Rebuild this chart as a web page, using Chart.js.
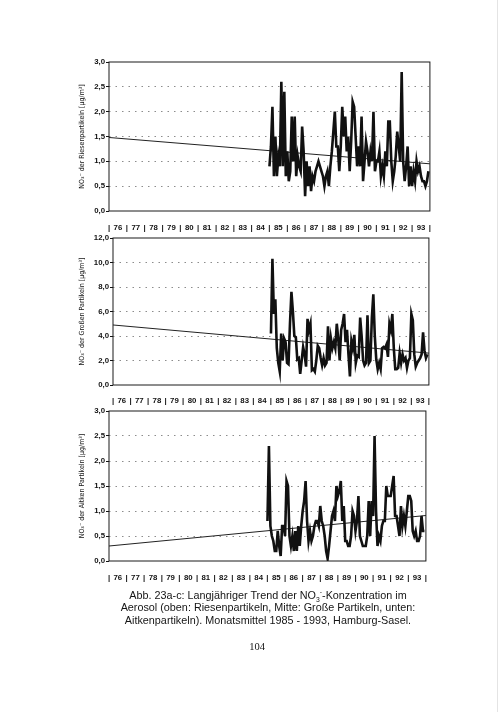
<!DOCTYPE html>
<html>
<head>
<meta charset="utf-8">
<script src="https://cdn.jsdelivr.net/npm/chart.js@4.4.0/dist/chart.umd.min.js"></script>
<style>
  body { margin: 0; width: 504px; height: 712px; background: #fff; position: relative; overflow: hidden;
         font-family: 'Liberation Sans', Arial, sans-serif; color: #151515; }
  .box { position: absolute; }
  .caption { position: absolute; left: 88px; top: 589px; width: 360px; text-align: center;
             font-size: 10.8px; line-height: 12.4px; white-space: nowrap; }
  .caption sub, .caption sup { font-size: 6.8px; line-height: 0; }
  .page { position: absolute; left: 232px; top: 641px; width: 50px; text-align: center;
          font-family: 'Liberation Serif', serif; font-size: 10.5px; }
  .scan-edge { position: absolute; left: 497px; top: 0; width: 1px; height: 712px; background: #e4e4e4; }
</style>
</head>
<body>
<div class="scan-edge"></div>
<div class="box" id="boxA"><canvas id="chartA"></canvas></div>
<div class="box" id="boxB"><canvas id="chartB"></canvas></div>
<div class="box" id="boxC"><canvas id="chartC"></canvas></div>
<div class="caption">
  Abb. 23a-c: Langjähriger Trend der NO<sub>3</sub><sup>-</sup>-Konzentration im<br>
  Aerosol (oben: Riesenpartikeln, Mitte: Große Partikeln, unten:<br>
  Aitkenpartikeln). Monatsmittel 1985 - 1993, Hamburg-Sasel.
</div>
<div class="page">104</div>
<script>
// Jahres-Beschriftung der x-Achse (1976 - 1993)
const yearLabels = ['76', '77', '78', '79', '80', '81', '82', '83', '84',
                    '85', '86', '87', '88', '89', '90', '91', '92', '93'];
const firstYear = 1976;
const dataStartYear = 1985;

// Monatsmittel 1985 - 1993, Riesenpartikeln [µg/m³]
const riesen = [
  0.9, 1.3, 2.1, 0.7, 1.5, 0.7, 1.1, 0.9, 2.6, 0.9, 2.4, 0.7,
  1.2, 0.6, 0.8, 1.9, 1.0, 1.9, 0.7, 1.1, 0.9, 0.8, 1.7, 1.2,
  0.3, 1.0, 0.5, 0.9, 0.4, 0.7, 0.6, 0.8, 0.9, 1.0, 0.9, 0.8,
  0.7, 0.5, 0.7, 0.8, 0.5, 0.9, 1.2, 1.6, 2.0, 1.3, 1.3, 0.8,
  1.3, 2.1, 1.5, 1.9, 1.2, 1.5, 0.8, 1.4, 2.2, 2.1, 1.5, 0.9,
  1.3, 0.9, 1.9, 0.6, 1.0, 1.4, 1.2, 0.9, 1.2, 1.0, 2.0, 0.8,
  1.0, 1.0, 1.2, 0.7, 0.9, 0.7, 1.2, 0.9, 1.8, 1.8, 1.0, 0.6,
  0.8, 1.1, 1.6, 1.3, 1.0, 2.8, 1.0, 0.6, 0.9, 1.3, 0.5, 0.9,
  0.5, 0.8, 0.6, 1.0, 0.8, 0.9, 0.7, 0.6, 0.6, 0.5, 0.6, 0.8
];

// Große Partikeln [µg/m³]
const gross = [
  4.2, 10.3, 5.8, 7.0, 3.0, 1.8, 1.1, 4.2, 2.0, 3.8, 3.5, 1.8,
  1.7, 5.0, 7.6, 6.0, 4.0, 3.9, 2.1, 2.2, 0.9, 2.0, 3.1, 2.5,
  1.5, 5.4, 4.5, 5.0, 1.2, 1.3, 1.1, 2.0, 3.2, 3.0, 2.2, 1.6,
  2.2, 1.6, 1.8, 4.8, 2.0, 3.8, 3.0, 3.5, 3.0, 5.0, 3.8, 2.0,
  4.5, 5.0, 5.8, 3.5, 4.5, 2.5, 0.7, 3.6, 3.0, 4.1, 1.8, 2.4,
  2.3, 5.5, 4.0, 2.0, 1.6, 1.8, 5.7, 1.8, 2.0, 5.5, 7.4, 4.0,
  2.1, 1.3, 1.8, 1.3, 3.0, 3.1, 3.0, 3.3, 2.3, 5.0, 4.5, 5.8,
  3.0, 1.3, 1.3, 1.4, 2.6, 1.8, 2.5, 2.0, 2.2, 1.4, 2.0, 2.2,
  5.8, 5.3, 2.5, 1.5, 1.8, 2.0, 2.2, 2.5, 4.3, 2.8, 2.2, 2.5
];

// Aitken Partikeln [µg/m³]
const aitken = [
  0.8, 2.3, 0.7, 0.5, 0.4, 0.2, 0.2, 0.6, 0.3, 0.1, 0.7, 0.7,
  0.5, 1.6, 1.5, 0.5, 0.3, 0.5, 0.2, 0.6, 0.2, 0.7, 0.3, 0.7,
  1.0, 1.2, 1.6, 0.8, 0.4, 0.6, 0.4, 0.5, 0.7, 0.8, 0.8, 0.7,
  1.1, 0.8, 0.7, 0.5, 0.2, 0.05, 0.3, 0.6, 0.9, 1.0, 0.8, 1.5,
  1.3, 1.4, 1.6, 0.8, 1.1, 0.4, 0.4, 0.3, 0.3, 0.5, 1.0, 0.9,
  0.6, 0.8, 1.3, 0.5, 0.4, 0.3, 0.3, 0.3, 0.5, 1.2, 0.5, 1.2,
  0.9, 2.5, 1.0, 0.3, 0.5, 0.4, 0.7, 0.8, 0.8, 1.5, 1.3, 1.3,
  1.3, 1.5, 1.7, 0.9, 0.9, 0.7, 0.5, 1.1, 0.7, 0.9, 0.7, 1.0,
  1.3, 1.3, 1.2, 0.6, 0.5, 0.6, 0.4, 0.4, 0.5, 0.9, 0.6, 0.6
];

// Trendgeraden (Anfang 1976, Ende 1994)
const trendYears = [1976, 1994];
const trendRiesen = [1.48, 0.95];
const trendGross = [4.9, 2.6];
const trendAitken = [0.30, 0.91];

const lastYear = firstYear + yearLabels.length;
const boxLeft = 78;
const xAxisHeight = 28;

const frame = {
  id: 'frame',
  beforeDatasetsDraw(chart) {
    const { ctx, chartArea: a } = chart;
    ctx.save();
    ctx.strokeStyle = '#1a1a1a';
    ctx.lineWidth = 1;
    ctx.strokeRect(a.left, a.top, a.right - a.left, a.bottom - a.top);
    ctx.restore();
  }
};

function makeChart(id, boxId, values, trend, yMax, yStep, title, plot) {
  const box = document.getElementById(boxId);
  const w = plot.right + 6 - boxLeft;
  const h = plot.bottom + xAxisHeight - (plot.top - 6);
  box.style.left = boxLeft + 'px';
  box.style.top = (plot.top - 6) + 'px';
  const cv = document.getElementById(id);
  cv.width = w; cv.height = h;
  cv.style.width = w + 'px'; cv.style.height = h + 'px';

  return new Chart(cv, {
    type: 'line',
    data: {
      datasets: [
        {
          data: values.map((v, i) => ({ x: dataStartYear + i / 12, y: v })),
          borderColor: '#111',
          borderWidth: 2.6,
          pointRadius: 0,
          tension: 0
        },
        {
          data: trendYears.map((x, i) => ({ x: x, y: trend[i] })),
          borderColor: '#222',
          borderWidth: 1,
          pointRadius: 0
        }
      ]
    },
    options: {
      responsive: false,
      animation: false,
      layout: { padding: { top: 6, right: 6, left: 0, bottom: 0 } },
      plugins: { legend: { display: false }, tooltip: { enabled: false } },
      scales: {
        x: {
          type: 'linear',
          min: firstYear,
          max: lastYear,
          afterBuildTicks: s => {
            s.ticks = [];
            for (let i = 0; i <= yearLabels.length * 2; i++) s.ticks.push({ value: firstYear + i / 2 });
          },
          afterFit: s => { s.height = xAxisHeight; },
          grid: { display: false, drawTicks: false },
          border: { display: false },
          ticks: {
            autoSkip: false, maxRotation: 0, minRotation: 0, padding: plot.xPad,
            color: '#111', font: { family: 'Liberation Sans', size: 7.8, weight: 'bold' },
            callback: (v, i) => i % 2 === 0 ? '|' : yearLabels[(i - 1) / 2]
          }
        },
        y: {
          min: 0,
          max: yMax,
          afterFit: s => { s.width = plot.left - boxLeft; },
          ticks: {
            stepSize: yStep, padding: 1, color: '#111',
            font: { family: 'Liberation Sans', size: 7.8, weight: 'bold' },
            callback: v => v.toFixed(1).replace('.', ',')
          },
          grid: {
            color: c => (c.tick && (c.tick.value === 0 || c.tick.value === yMax)) ? 'rgba(0,0,0,0)' : '#8c8c8c',
            lineWidth: 1,
            drawTicks: true,
            tickLength: 3,
            tickColor: '#111'
          },
          border: { display: false, dash: [1.5, 5] },
          title: {
            display: true, text: title, color: '#111',
            font: { family: "'Liberation Sans Narrow', 'DejaVu Sans Condensed', 'Liberation Sans'", size: 7 },
            padding: { top: 0, bottom: 2 }
          }
        }
      }
    },
    plugins: [frame]
  });
}

makeChart('chartA', 'boxA', riesen, trendRiesen, 3, 0.5,
  'NO₃⁻ der Riesenpartikeln [µg/m³]', { left: 109, right: 437, top: 62, bottom: 211, xPad: 12 });
makeChart('chartB', 'boxB', gross, trendGross, 12, 2,
  'NO₃⁻ der Großen Partikeln [µg/m³]', { left: 113, right: 435, top: 238, bottom: 385, xPad: 11 });
makeChart('chartC', 'boxC', aitken, trendAitken, 3, 0.5,
  'NO₃⁻ der Aitken Partikeln [µg/m³]', { left: 109, right: 433, top: 411, bottom: 561, xPad: 12 });
</script>
</body>
</html>
